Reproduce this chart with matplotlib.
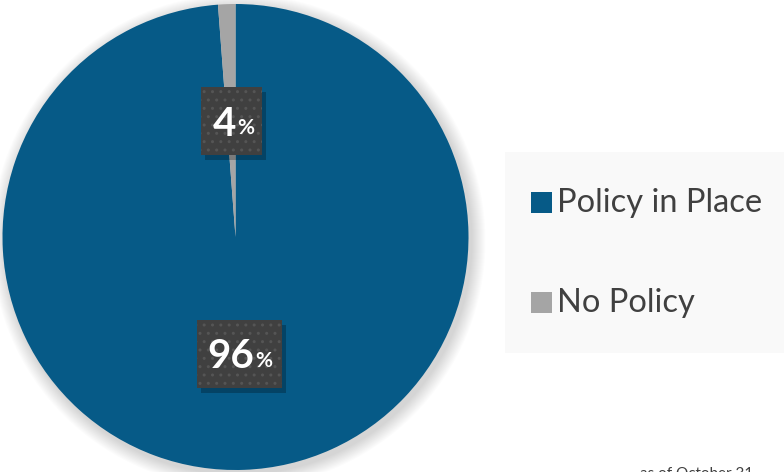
import matplotlib
matplotlib.use("Agg")
import matplotlib.pyplot as plt
from matplotlib.patches import Circle, Rectangle

categories = ["Policy in Place", "No Policy"]
shares = [98.8, 1.2]          # drawn wedge sizes as seen in picture
label_values = ["96", "4"]    # printed labels
colors = ["#065A87", "#A5A5A5"]
footnote = "as of October 31"

plt.rcParams["hatch.color"] = "#555555"

W, H = 784, 472
fig = plt.figure(figsize=(W / 100, H / 100), dpi=100)
ax = fig.add_axes([0, 0, 1, 1])

cx, cy, r = 235.5, 237.0, 233.0

# soft shadow
for i in range(14):
    rr = r + 14 - i
    ax.add_patch(Circle((cx + 3, cy + 4), rr, color="black", alpha=0.012, lw=0, zorder=1))

wedges, _ = ax.pie(shares, colors=colors, startangle=-90, counterclock=True,
                   center=(cx, cy), radius=r, frame=True,
                   wedgeprops=dict(linewidth=0))
for w in wedges:
    w.set_zorder(2)
ax.set_xlim(0, W)
ax.set_ylim(H, 0)
ax.set_aspect("equal")
ax.axis("off")

# legend box
ax.add_patch(Rectangle((505, 152), 290, 201, facecolor="#F9F9F9", edgecolor="none", zorder=1))
leg_y = [202, 302]
for i, (cat, col) in enumerate(zip(categories, colors)):
    ax.add_patch(Rectangle((531, leg_y[i] - 10.5), 21, 21, facecolor=col, edgecolor="none", zorder=3))
    ax.text(557, leg_y[i] + 1, cat, fontsize=23.5, family="Lato", color="#404040",
            va="center", ha="left", zorder=3)

# data label boxes
boxes = [(197, 320, 85, 68), (201, 87, 61, 68)]
for (bx, by, bw, bh), val in zip(boxes, label_values):
    ax.add_patch(Rectangle((bx + 4, by + 5), bw, bh, facecolor="black", alpha=0.25, edgecolor="none", zorder=4))
    ax.add_patch(Rectangle((bx, by), bw, bh, facecolor="#404040", edgecolor="#555555", lw=0,
                           hatch="..", zorder=5))
    tcx, tcy = bx + bw / 2, by + bh / 2
    offs = 9 if len(val) == 2 else 7
    t = ax.text(tcx - offs, tcy + 3, val, fontsize=29, family="Lato", weight="bold", color="white",
                ha="center", va="center", zorder=6)
    ax.annotate("%", xy=(1, 0), xycoords=t, xytext=(1, 3), textcoords="offset points",
                fontsize=15, family="Lato", weight="bold", color="white",
                ha="left", va="bottom", zorder=6)

ax.text(640, 474, footnote, fontsize=11, family="Lato", color="#404040", ha="left", va="center")

fig.savefig("out.png", dpi=100)
